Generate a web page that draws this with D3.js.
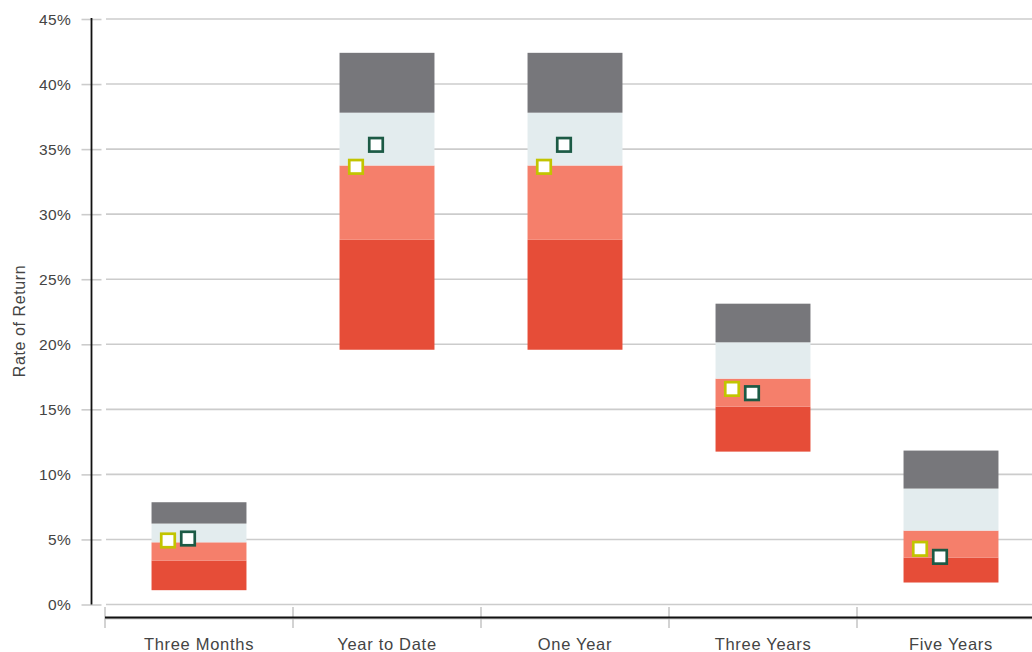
<!DOCTYPE html>
<html>
<head>
<meta charset="utf-8">
<script src="https://cdn.jsdelivr.net/npm/d3@7"></script>
<style>
  body { margin: 0; background: #fff; }
  svg { display: block; font-family: "Liberation Sans", Arial, sans-serif; }
</style>
</head>
<body>
<svg id="chart" width="1032" height="652"></svg>
<script>
// ---- data ----
const categories = ["Three Months", "Year to Date", "One Year", "Three Years", "Five Years"];
// range band boundaries (percent), bottom to top
const p95 = [1.1, 19.58, 19.58, 11.75, 1.69];   // bottom of red band
const p75 = [3.38, 28.03, 28.03, 15.21, 3.61];  // red / salmon
const p50 = [4.78, 33.74, 33.74, 17.36, 5.68];  // salmon / light
const p25 = [6.22, 37.8, 37.8, 20.15, 8.91];    // light / gray
const p5  = [7.86, 42.4, 42.4, 23.12, 11.83];   // top of gray band
const seriesA = [4.92, 33.64, 33.64, 16.57, 4.28]; // yellow markers
const seriesB = [5.07, 35.33, 35.33, 16.24, 3.66]; // green markers
const yTicks = [0, 5, 10, 15, 20, 25, 30, 35, 40, 45];

const svg = d3.select("#chart");
const y = d3.scaleLinear().domain([0, 45]).range([604.5, 19]);
const x = d3.scaleBand().domain(categories).range([105, 1045]).paddingInner(0.495).paddingOuter(0.2475);

// gridlines
svg.append("g").selectAll("line").data(yTicks).join("line")
  .attr("x1", 106).attr("x2", 1032)
  .attr("y1", d => y(d)).attr("y2", d => y(d))
  .attr("stroke", "#cccccc").attr("stroke-width", 1.6);

// y axis
const yAxis = svg.append("g").attr("transform", "translate(91.5,0)")
  .call(d3.axisLeft(y).tickValues(yTicks).tickFormat(d => d + "%").tickSizeInner(10).tickSizeOuter(0).tickPadding(11));
yAxis.select(".domain").remove();
yAxis.selectAll(".tick line").attr("x2", 10).attr("x1", -10).attr("stroke", "#cccccc").attr("stroke-width", 1.6);
yAxis.selectAll(".tick text").attr("x", -20.5).attr("dy", "0.35em").attr("fill", "#444")
  .style("font-size", "15.5px").style("letter-spacing", "0.3px").style("font-family", "Liberation Sans, Arial, sans-serif");
svg.append("line").attr("x1", 91.5).attr("x2", 91.5).attr("y1", 18).attr("y2", 604.5)
  .attr("stroke", "#111").attr("stroke-width", 1.8);

// y title
svg.append("text").attr("transform", "translate(25,321) rotate(-90)")
  .attr("text-anchor", "middle").attr("fill", "#444").style("font-size", "16px").style("letter-spacing", "0.6px")
  .text("Rate of Return");

// bars
const bands = [
  { lo: p95, hi: p75, color: "#e64d38" },
  { lo: p75, hi: p50, color: "#f57f6b" },
  { lo: p50, hi: p25, color: "#e3ecee" },
  { lo: p25, hi: p5,  color: "#77777b" }
];
const gBars = svg.append("g");
bands.forEach(b => {
  gBars.append("g").selectAll("rect").data(categories).join("rect")
    .attr("x", d => x(d))
    .attr("width", x.bandwidth())
    .attr("y", (d, i) => y(b.hi[i]))
    .attr("height", (d, i) => y(b.lo[i]) - y(b.hi[i]))
    .attr("fill", b.color);
});

// markers
const ms = 13.5;
function markers(vals, dx, color) {
  svg.append("g").selectAll("rect").data(categories).join("rect")
    .attr("x", d => x(d) + x.bandwidth() / 2 + dx - ms / 2)
    .attr("y", (d, i) => y(vals[i]) - ms / 2)
    .attr("width", ms).attr("height", ms)
    .attr("fill", "#ffffff").attr("stroke", color).attr("stroke-width", 2.7);
}
markers(seriesA, -31, "#c2c400");
markers(seriesB, -11, "#1c5a45");

// x axis
const xBounds = [0, 1, 2, 3, 4].map(i => x.range()[0] + i * x.step());
svg.append("g").selectAll("line").data(xBounds).join("line")
  .attr("x1", d => d).attr("x2", d => d).attr("y1", 607).attr("y2", 628)
  .attr("stroke", "#c8c8c8").attr("stroke-width", 1.6);
svg.append("line").attr("x1", 105).attr("x2", 1032).attr("y1", 618.8).attr("y2", 618.8)
  .attr("stroke", "#cccccc").attr("stroke-width", 1.5);
svg.append("line").attr("x1", 105).attr("x2", 1032).attr("y1", 617.5).attr("y2", 617.5)
  .attr("stroke", "#111").attr("stroke-width", 1.8);
svg.append("g").selectAll("text").data(categories).join("text")
  .attr("x", d => x(d) + x.bandwidth() / 2)
  .attr("y", 649.5)
  .attr("text-anchor", "middle").attr("fill", "#444").style("font-size", "16.5px").style("letter-spacing", "0.7px")
  .text(d => d);
</script>
</body>
</html>
